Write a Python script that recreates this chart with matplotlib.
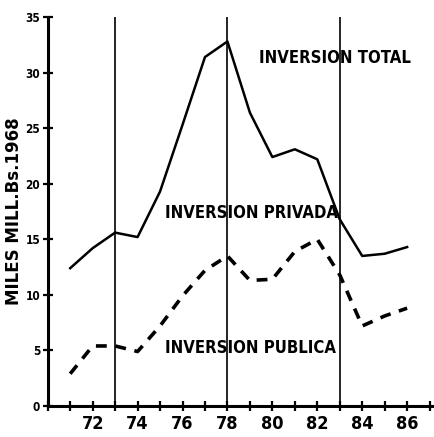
import matplotlib.pyplot as plt

years = [71, 72, 73, 74, 75, 76, 77, 78, 79, 80, 81, 82, 83, 84, 85, 86]
total = [12.4, 14.2, 15.6, 15.2, 19.3, 25.3, 31.4, 32.8, 26.4, 22.4, 23.1, 22.2, 16.8, 13.5, 13.7, 14.3]
privada = [2.9, 5.4, 5.4, 4.9, 7.2, 9.9, 12.2, 13.5, 11.3, 11.4, 13.9, 15.0, 11.8, 7.2, 8.1, 8.8]
marker_years = [73, 78, 83]
xtick_years = [72, 74, 76, 78, 80, 82, 84, 86]

FONT = ['DejaVu Sans']

fig = plt.figure(figsize=(4.34, 4.37), dpi=100)
ax = fig.add_axes([0.11, 0.071, 0.885, 0.89])

# lineas verticales de referencia
for yr in marker_years:
    ax.plot([yr, yr], [0, 35], color='black', lw=1.2)

ax.plot(years, total, color='black', lw=1.8)
ax.plot(years, privada, color='black', lw=2.6, linestyle=(0, (3.0, 2.4)))

kw = dict(fontsize=12, fontweight='bold', family=FONT, fontstretch='condensed',
          va='center', ha='left')
ax.text(79.4, 31.3, 'INVERSION TOTAL', **kw)
ax.text(75.2, 17.4, 'INVERSION PRIVADA', **kw)
ax.text(75.2, 5.2, 'INVERSION PUBLICA', **kw)

ax.set_xlim(70, 87.1)
ax.set_ylim(0, 35)
ax.spines['top'].set_visible(False)
ax.spines['right'].set_visible(False)
ax.spines['left'].set_linewidth(2.2)
ax.spines['bottom'].set_linewidth(2.2)

ax.set_xticks(range(70, 88))
ax.set_xticklabels([str(y) if y in xtick_years else '' for y in range(70, 88)])
ax.set_yticks(range(0, 36, 5))
ax.tick_params(axis='x', direction='inout', length=7, width=1.6, pad=3)
ax.tick_params(axis='y', direction='inout', length=7, width=1.6, pad=2)
for lab in ax.get_xticklabels():
    lab.set_family(FONT)
    lab.set_fontweight('bold')
    lab.set_fontstretch('condensed')
    lab.set_fontsize(13)
for lab in ax.get_yticklabels():
    lab.set_family(FONT)
    lab.set_fontweight('bold')
    lab.set_fontstretch('condensed')
    lab.set_fontsize(8.5)

ax.set_ylabel('MILES MILL.Bs.1968', fontsize=12, fontweight='bold',
              family=FONT)
ax.yaxis.set_label_coords(-0.064, 0.5)

fig.savefig('out.png', dpi=100)
